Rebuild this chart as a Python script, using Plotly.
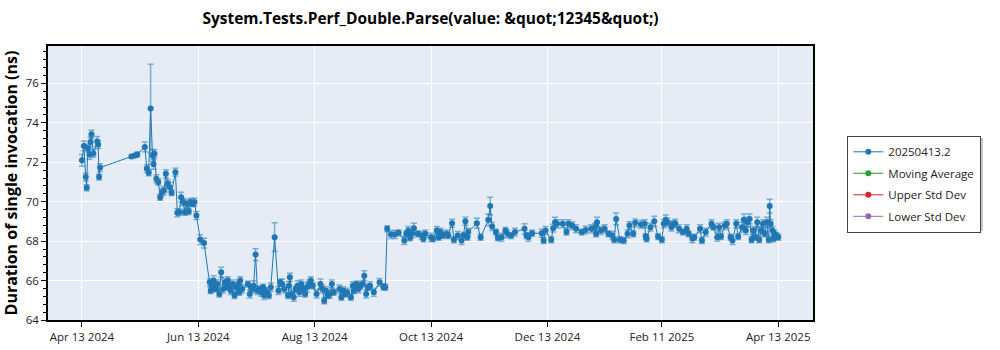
import plotly.graph_objects as go

# --- data ---
run_dates = [
    "2024-04-13", "2024-04-14", "2024-04-15", "2024-04-15 12:00", "2024-04-16", "2024-04-17",
    "2024-04-17 12:00", "2024-04-18", "2024-04-19", "2024-04-21", "2024-04-21 12:00", "2024-04-22",
    "2024-04-22 12:00",
    "2024-05-09", "2024-05-11", "2024-05-12", "2024-05-16", "2024-05-17", "2024-05-18", "2024-05-19",
    "2024-05-20", "2024-05-20 12:00", "2024-05-21", "2024-05-22", "2024-05-23", "2024-05-24",
    "2024-05-25", "2024-05-26", "2024-05-27", "2024-05-28", "2024-05-29", "2024-05-30", "2024-06-01",
    "2024-06-02", "2024-06-03", "2024-06-04", "2024-06-05", "2024-06-06", "2024-06-07", "2024-06-08",
    "2024-06-09", "2024-06-10", "2024-06-11", "2024-06-12", "2024-06-14", "2024-06-16",
    "2024-06-19", "2024-06-19 12:00", "2024-06-20", "2024-06-21", "2024-06-22", "2024-06-23",
    "2024-06-24", "2024-06-25", "2024-06-26", "2024-06-27", "2024-06-28", "2024-06-28 12:00",
    "2024-06-29", "2024-06-30", "2024-07-01", "2024-07-02", "2024-07-03", "2024-07-04",
    "2024-07-04 12:00", "2024-07-05", "2024-07-06", "2024-07-09", "2024-07-10", "2024-07-11",
    "2024-07-11 12:00", "2024-07-12", "2024-07-13", "2024-07-14", "2024-07-15", "2024-07-16",
    "2024-07-17", "2024-07-17 12:00", "2024-07-18", "2024-07-19", "2024-07-20", "2024-07-21",
    "2024-07-23", "2024-07-25", "2024-07-26", "2024-07-27", "2024-07-28", "2024-07-30",
    "2024-07-30 12:00", "2024-07-31", "2024-08-01", "2024-08-02", "2024-08-03", "2024-08-04",
    "2024-08-05", "2024-08-05 12:00", "2024-08-06", "2024-08-07", "2024-08-08", "2024-08-09",
    "2024-08-10", "2024-08-11", "2024-08-12", "2024-08-14", "2024-08-16", "2024-08-17",
    "2024-08-18", "2024-08-19", "2024-08-20", "2024-08-21", "2024-08-22", "2024-08-23",
    "2024-08-26", "2024-08-27", "2024-08-28", "2024-08-29", "2024-08-30", "2024-09-01",
    "2024-09-02", "2024-09-02 12:00", "2024-09-03", "2024-09-04", "2024-09-05", "2024-09-06",
    "2024-09-07", "2024-09-08", "2024-09-09", "2024-09-10", "2024-09-11", "2024-09-13",
    "2024-09-16", "2024-09-18", "2024-09-19",
    "2024-09-20", "2024-09-22", "2024-09-24", "2024-09-26", "2024-09-29", "2024-09-30",
    "2024-10-01", "2024-10-02", "2024-10-03", "2024-10-04", "2024-10-06", "2024-10-08",
    "2024-10-09", "2024-10-10", "2024-10-13", "2024-10-14", "2024-10-16", "2024-10-17",
    "2024-10-18", "2024-10-19", "2024-10-21", "2024-10-22", "2024-10-24", "2024-10-25",
    "2024-10-27", "2024-10-29", "2024-10-30", "2024-10-31", "2024-11-01", "2024-11-01 12:00",
    "2024-11-06", "2024-11-08", "2024-11-12", "2024-11-13", "2024-11-14", "2024-11-16",
    "2024-11-17", "2024-11-19", "2024-11-21", "2024-11-22", "2024-11-24", "2024-11-26",
    "2024-12-01", "2024-12-02", "2024-12-03", "2024-12-05", "2024-12-10", "2024-12-11",
    "2024-12-12", "2024-12-15", "2024-12-16", "2024-12-17", "2024-12-18", "2024-12-21",
    "2024-12-23", "2024-12-24", "2024-12-26", "2024-12-28", "2024-12-31", "2025-01-02",
    "2025-01-05", "2025-01-07", "2025-01-07 12:00", "2025-01-08", "2025-01-10", "2025-01-12",
    "2025-01-14", "2025-01-16", "2025-01-17", "2025-01-18", "2025-01-20", "2025-01-22",
    "2025-01-24", "2025-01-25", "2025-01-27", "2025-01-28", "2025-01-31", "2025-02-02",
    "2025-02-02 12:00", "2025-02-03", "2025-02-05", "2025-02-07", "2025-02-09", "2025-02-11",
    "2025-02-12", "2025-02-13", "2025-02-14", "2025-02-16", "2025-02-17", "2025-02-18",
    "2025-02-20", "2025-02-22", "2025-02-24", "2025-02-25", "2025-02-27", "2025-02-28",
    "2025-03-03", "2025-03-04", "2025-03-06", "2025-03-09", "2025-03-10", "2025-03-12",
    "2025-03-13", "2025-03-14", "2025-03-16", "2025-03-17", "2025-03-19", "2025-03-20",
    "2025-03-22", "2025-03-23", "2025-03-25", "2025-03-26", "2025-03-27", "2025-03-28",
    "2025-03-29", "2025-03-30", "2025-03-31", "2025-04-01", "2025-04-02", "2025-04-03",
    "2025-04-04", "2025-04-05", "2025-04-06", "2025-04-07", "2025-04-08", "2025-04-08 12:00",
    "2025-04-09", "2025-04-10", "2025-04-10 12:00", "2025-04-11", "2025-04-12", "2025-04-13",
]

duration_ns = [
    72.10, 72.83, 71.25, 70.71, 72.72, 72.40,
    73.03, 73.42, 72.45, 73.06, 72.90, 71.25,
    71.73,
    72.30, 72.35, 72.40, 72.78, 71.68, 71.47, 74.73,
    72.35, 71.90, 72.44, 71.17, 71.00, 70.23,
    70.49, 70.57, 71.42, 70.91, 70.74, 70.46, 71.50,
    69.44, 69.47, 70.23, 69.98, 69.47, 69.90, 69.50,
    69.98, 69.90, 69.98, 69.30, 68.08, 67.90,
    65.91, 65.49, 65.74, 66.00, 65.57, 65.83,
    65.32, 66.42, 65.57, 65.91, 65.66, 66.00,
    65.74, 65.49, 65.83, 65.24, 65.66, 65.83,
    65.41, 66.00, 65.57, 65.83, 65.32, 65.66,
    65.57, 65.74, 67.32, 65.49, 65.57, 65.41,
    65.66, 65.24, 65.49, 65.41, 65.24, 65.66,
    68.20, 65.49, 65.91, 65.83, 65.57, 65.24,
    65.74, 66.17, 65.32, 65.15, 65.57, 65.74,
    65.41, 65.66, 65.83, 65.57, 65.32, 65.66,
    65.83, 66.00, 65.74, 65.32, 65.83, 65.57,
    64.98, 65.49, 65.24, 65.32, 65.83, 65.41,
    65.57, 65.15, 65.49, 65.32, 65.41, 65.15,
    65.74, 65.49, 65.66, 65.83, 65.57, 65.74,
    65.83, 66.25, 65.32, 65.66, 65.74, 65.41,
    65.91, 65.69, 65.66,
    68.63, 68.34, 68.34, 68.42, 68.03, 68.37,
    68.54, 68.17, 68.37, 68.66, 68.37, 68.29,
    68.12, 68.37, 68.20, 68.12, 68.54, 68.20,
    68.46, 68.29, 68.37, 68.29, 68.91, 68.07,
    68.29, 68.03, 68.29, 69.01, 68.20, 68.46,
    68.91, 68.20, 69.08, 69.78, 68.74, 68.46,
    68.17, 68.20, 68.54, 68.37, 68.29, 68.46,
    68.63, 68.29, 68.20, 68.40, 68.40, 68.03,
    68.54, 68.07, 68.66, 68.96, 68.88, 68.88,
    68.46, 68.88, 68.79, 68.63, 68.46, 68.57,
    68.63, 68.71, 68.37, 68.96, 68.54, 68.63,
    68.37, 68.29, 68.07, 69.13, 68.07, 68.03,
    68.37, 68.79, 68.37, 68.93, 68.85, 68.88,
    68.23, 68.12, 68.71, 69.01, 68.23, 68.07,
    68.88, 69.08, 68.96, 68.71, 68.88, 68.91,
    68.63, 68.46, 68.63, 68.37, 68.12, 68.20,
    68.63, 68.03, 68.46, 68.88, 68.71, 68.20,
    68.71, 68.23, 68.79, 68.88, 68.20, 68.03,
    68.88, 68.23, 68.71, 69.08, 68.54, 68.96,
    69.13, 68.07, 68.54, 68.20, 68.96, 68.07,
    68.54, 68.88, 68.37, 68.96, 68.07, 69.78,
    68.88, 68.54, 68.12, 68.37, 68.29, 68.20,
]

std_err = [
    0.30, 0.25, 0.20, 0.15, 0.20, 0.25,
    0.25, 0.20, 0.20, 0.25, 0.20, 0.15,
    0.20,
    0.10, 0.10, 0.12, 0.25, 0.20, 0.15, 2.25,
    0.30, 0.25, 0.20, 0.20, 0.15, 0.15,
    0.20, 0.20, 0.20, 0.20, 0.25, 0.15, 0.20,
    0.20, 0.15, 0.25, 0.20, 0.15, 0.20, 0.15,
    0.20, 0.15, 0.20, 0.20, 0.25, 0.25,
    0.20, 0.15, 0.20, 0.25, 0.15, 0.20,
    0.15, 0.25, 0.20, 0.20, 0.15, 0.20,
    0.15, 0.20, 0.20, 0.15, 0.25, 0.20,
    0.15, 0.20, 0.20, 0.15, 0.20, 0.15,
    0.20, 0.25, 0.30, 0.20, 0.15, 0.20,
    0.15, 0.20, 0.15, 0.20, 0.15, 0.20,
    0.73, 0.20, 0.15, 0.25, 0.20, 0.15,
    0.20, 0.20, 0.15, 0.20, 0.15, 0.25,
    0.20, 0.15, 0.20, 0.20, 0.15, 0.25,
    0.20, 0.20, 0.15, 0.20, 0.25, 0.20,
    0.15, 0.20, 0.15, 0.20, 0.20, 0.15,
    0.20, 0.15, 0.20, 0.15, 0.20, 0.15,
    0.20, 0.15, 0.20, 0.15, 0.20, 0.15,
    0.15, 0.25, 0.20, 0.15, 0.20, 0.20,
    0.20, 0.15, 0.15,
    0.15, 0.20, 0.20, 0.15, 0.20, 0.15,
    0.20, 0.15, 0.20, 0.25, 0.15, 0.20,
    0.15, 0.20, 0.20, 0.15, 0.20, 0.15,
    0.20, 0.15, 0.20, 0.15, 0.20, 0.15,
    0.20, 0.20, 0.15, 0.20, 0.15, 0.20,
    0.25, 0.15, 0.30, 0.45, 0.20, 0.15,
    0.15, 0.20, 0.15, 0.20, 0.15, 0.20,
    0.25, 0.15, 0.20, 0.15, 0.20, 0.15,
    0.20, 0.15, 0.20, 0.25, 0.20, 0.20,
    0.15, 0.20, 0.20, 0.20, 0.15, 0.20,
    0.20, 0.20, 0.15, 0.25, 0.20, 0.20,
    0.15, 0.20, 0.15, 0.30, 0.15, 0.15,
    0.20, 0.20, 0.15, 0.20, 0.20, 0.20,
    0.15, 0.15, 0.20, 0.25, 0.15, 0.15,
    0.20, 0.25, 0.20, 0.20, 0.15, 0.20,
    0.20, 0.15, 0.20, 0.15, 0.20, 0.15,
    0.20, 0.15, 0.20, 0.20, 0.15, 0.20,
    0.20, 0.15, 0.20, 0.20, 0.15, 0.20,
    0.20, 0.15, 0.25, 0.30, 0.20, 0.25,
    0.25, 0.15, 0.20, 0.15, 0.25, 0.15,
    0.20, 0.20, 0.15, 0.25, 0.15, 0.35,
    0.20, 0.20, 0.15, 0.20, 0.15, 0.15,
]

x_tick_dates = ["2024-04-13", "2024-06-13", "2024-08-13", "2024-10-13",
                "2024-12-13", "2025-02-11", "2025-04-13"]

series_names = ["20250413.2", "Moving Average", "Upper Std Dev", "Lower Std Dev"]
series_colors = ["#1f77b4", "#2ca02c", "#d62728", "#9467bd"]

title_text = "System.Tests.Perf_Double.Parse(value: &amp;quot;12345&amp;quot;)"
y_title = "Duration of single invocation (ns)"

FONT = "Open Sans"

fig = go.Figure()
fig.add_trace(go.Scatter(
    x=run_dates, y=duration_ns, name=series_names[0], legendgroup="g0",
    mode="lines+markers",
    line=dict(color=series_colors[0], width=1),
    marker=dict(color=series_colors[0], size=6),
    error_y=dict(type="data", array=std_err, visible=True,
                 color="rgba(31,119,180,0.55)", thickness=1.5, width=3),
))
for i, (nm, col) in enumerate(zip(series_names[1:], series_colors[1:])):
    fig.add_trace(go.Scatter(
        x=[None], y=[None], name=nm, mode="lines+markers", legendgroup="g%d" % (i + 1),
        line=dict(color=col, width=1), marker=dict(color=col, size=6),
    ))

# legend shadow
L, T = 847, 136
W, H = 132, 92
def px_x(p):
    return (p - 48) / 765.0
def px_y(p):
    return (320 - p) / 274.0
fig.add_shape(type="rect", xref="paper", yref="paper",
              x0=px_x(L + 2), x1=px_x(L + W + 4), y0=px_y(T + H + 3), y1=px_y(T + 2),
              fillcolor="#c8c8c8", line=dict(width=0), layer="above")
fig.add_shape(type="rect", xref="paper", yref="paper",
              x0=px_x(L + 2), x1=px_x(L + W + 2), y0=px_y(T + H + 1.5), y1=px_y(T + 2),
              fillcolor="#9a9a9a", line=dict(width=0), layer="above")

fig.update_layout(
    width=1000, height=350,
    margin=dict(l=48, r=187, t=46, b=30, autoexpand=False),
    paper_bgcolor="white", plot_bgcolor="#e5ecf6",
    font=dict(family=FONT, size=12, color="#222"),
    title=dict(text="<b>" + title_text + "</b>", x=0.5, xref="paper", xanchor="center",
               y=0.948, yref="container", yanchor="middle",
               font=dict(family=FONT, size=15.5, color="black")),
    showlegend=True,
    legend=dict(x=px_x(L), y=px_y(T), xanchor="left", yanchor="top",
                bgcolor="white", bordercolor="#444", borderwidth=1.3,
                font=dict(family=FONT, size=11.5, color="#222"),
                itemwidth=30, traceorder="grouped", tracegroupgap=2.5),
    xaxis=dict(
        type="date", automargin=False,
        range=["2024-03-26 05:00", "2025-05-01 05:00"],
        tickvals=x_tick_dates, tickformat="%b %d %Y",
        showgrid=True, gridcolor="white", gridwidth=1.2,
        showline=True, linecolor="black", linewidth=1.5, mirror=True,
        ticks="outside", ticklen=5, tickcolor="black",
        tickfont=dict(family=FONT, size=11.5, color="#222"),
        zeroline=False,
    ),
    yaxis=dict(
        range=[64, 77.9], dtick=2, tick0=64, automargin=False,
        showgrid=True, gridcolor="white", gridwidth=1.2,
        showline=True, linecolor="black", linewidth=1.5, mirror=True,
        ticks="outside", ticklen=5, tickcolor="black",
        tickfont=dict(family=FONT, size=11.5, color="#222"),
        minor=dict(dtick=0.4, ticks="outside", ticklen=3, tickcolor="black", showgrid=False),
        title=dict(text="<b>" + y_title + "</b>", standoff=6,
                   font=dict(family=FONT, size=16, color="black")),
        zeroline=False,
    ),
)

fig.write_html("out.html")
